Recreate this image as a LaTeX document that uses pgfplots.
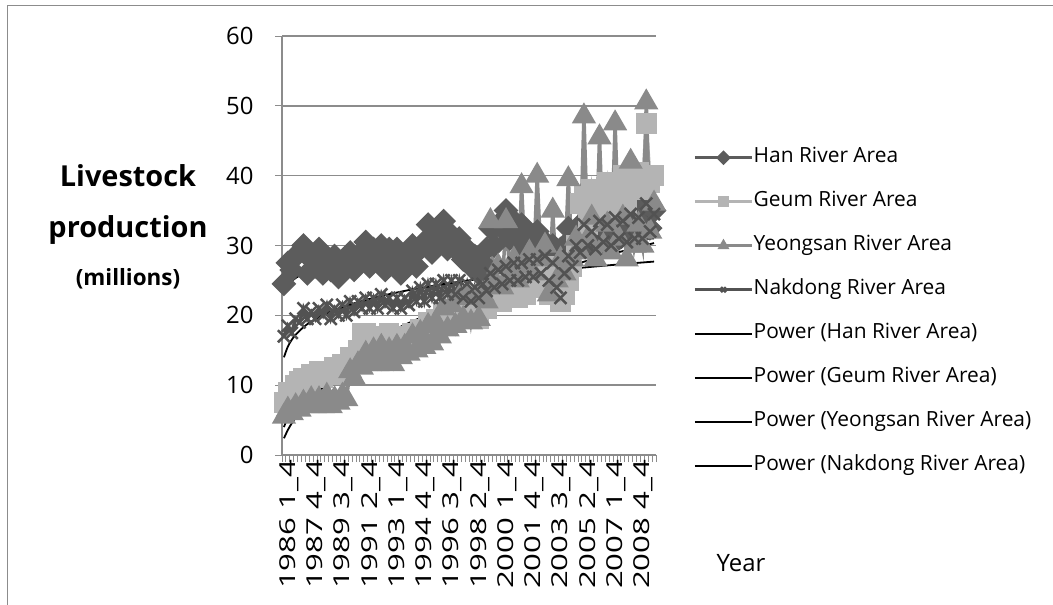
\documentclass[border=0pt]{standalone}
\usepackage{pgfplots}
\pgfplotsset{compat=1.18}
\usepackage{pgfplotstable}
\usepackage{fontspec}
\setmainfont{Open Sans}

\definecolor{gridgray}{HTML}{8C8C8C}
\definecolor{hancol}{HTML}{5C5C5C}
\definecolor{geumcol}{HTML}{B4B4B4}
\definecolor{yeongcol}{HTML}{8A8A8A}
\definecolor{nakcol}{HTML}{525252}

% quarterly livestock production, 1986 Q1 (idx 0) to 2009 Q4 (idx 95)
\pgfplotstableread{
idx han geum yeong nak
0 24.5 7.5 5.5 17.0
1 27.5 9.0 6.5 18.5
2 26.5 8.5 6.0 17.5
3 28.5 10.0 7.0 19.5
4 29.0 10.5 6.5 19.0
5 30.0 11.0 7.5 21.0
6 26.0 10.0 7.0 19.5
7 28.0 11.5 8.0 20.5
8 27.0 11.5 7.0 19.5
9 29.5 12.0 8.0 21.0
10 26.0 11.0 7.0 20.0
11 27.5 12.0 8.5 21.5
12 26.5 11.5 7.0 19.5
13 28.5 12.5 8.0 21.0
14 25.5 11.5 7.5 20.0
15 27.5 13.0 8.5 21.5
16 27.0 13.0 8.0 20.0
17 29.0 14.0 12.0 22.0
18 26.5 13.0 11.0 20.5
19 28.5 15.0 13.0 22.0
20 28.0 17.5 12.5 21.0
21 30.5 17.5 14.5 22.5
22 27.0 16.0 13.0 21.0
23 29.5 17.0 15.0 22.5
24 28.0 16.5 13.0 21.0
25 30.0 17.0 15.5 23.0
26 26.5 16.0 13.5 21.5
27 29.5 17.5 15.0 22.5
28 27.5 16.0 13.0 21.0
29 29.5 17.0 15.5 22.5
30 26.0 15.5 14.0 21.0
31 28.0 16.5 15.5 22.5
32 28.5 16.0 14.5 21.5
33 30.0 17.5 17.0 23.5
34 27.0 16.0 15.0 22.0
35 29.5 18.0 17.5 24.0
36 30.5 17.5 15.5 22.0
37 33.0 19.0 18.5 24.5
38 29.0 17.5 16.0 22.5
39 31.5 19.5 19.0 24.5
40 31.0 19.0 17.0 22.5
41 33.5 20.5 21.0 25.0
42 29.5 19.0 18.0 23.0
43 31.5 20.5 21.5 25.0
44 29.5 19.5 18.5 23.0
45 31.0 21.0 22.5 25.0
46 28.0 19.5 19.5 22.5
47 29.5 21.0 23.0 24.5
48 27.0 19.5 19.0 22.0
49 28.5 21.0 22.5 24.0
50 26.0 19.5 19.5 22.5
51 27.5 21.5 23.0 24.5
52 29.5 21.0 22.0 23.5
53 32.5 23.0 33.5 26.0
54 30.0 22.0 25.0 24.0
55 33.0 24.0 27.0 26.5
56 32.5 22.0 24.0 24.5
57 35.0 24.5 33.5 27.0
58 31.0 22.5 26.0 25.0
59 33.5 24.0 28.0 27.5
60 31.0 22.5 25.0 25.0
61 33.0 25.0 38.5 27.5
62 29.5 23.0 27.0 25.5
63 31.5 25.5 29.0 28.0
64 30.0 24.0 26.0 25.5
65 32.0 27.0 40.0 28.0
66 28.5 24.5 28.0 26.0
67 30.5 27.0 30.0 28.5
68 28.5 23.0 23.0 25.0
69 30.0 26.0 35.0 27.5
70 27.0 23.5 25.0 24.0
71 29.5 22.0 28.0 22.5
72 30.0 23.0 26.0 26.0
73 32.5 25.0 39.5 28.5
74 29.5 27.0 28.0 27.0
75 31.5 30.0 31.0 30.0
76 31.0 36.0 29.0 29.0
77 33.5 37.0 48.5 33.0
78 30.0 33.0 31.0 30.0
79 32.0 38.0 34.0 32.0
80 31.5 34.0 28.0 29.5
81 34.0 38.0 45.5 33.5
82 30.5 35.0 30.0 30.5
83 33.0 39.0 33.0 33.0
84 32.0 35.0 29.0 30.0
85 34.5 39.0 47.5 34.0
86 31.0 36.0 31.0 31.0
87 33.0 40.0 34.0 33.5
88 32.5 36.0 28.0 30.5
89 35.0 40.0 42.0 34.5
90 31.5 38.0 30.0 31.0
91 33.5 40.5 33.0 34.0
92 33.0 38.0 30.0 31.0
93 36.0 47.5 50.5 36.0
94 32.5 39.0 32.0 32.0
95 35.0 40.0 36.0 34.5
}\livestock

% power-law trend curves (y = a x^b), sampled along the quarter index
\pgfplotstableread{
idx han geum yeong nak
0 23.20 4.00 2.40 14.00
1 24.25 5.44 3.59 15.53
2 24.88 6.51 4.54 16.50
3 25.34 7.40 5.36 17.22
5 26.00 8.86 6.78 18.30
7 26.48 10.07 8.02 19.10
11 27.17 12.06 10.14 20.30
15 27.67 13.70 11.98 21.19
23 28.40 16.40 15.16 22.51
31 28.92 18.64 17.91 23.50
39 29.33 20.58 20.39 24.30
47 29.68 22.31 22.66 24.97
55 29.97 23.89 24.78 25.55
63 30.22 25.35 26.78 26.07
71 30.45 26.71 28.67 26.53
79 30.66 27.99 30.48 26.95
87 30.84 29.20 32.21 27.34
95 31.01 30.35 33.88 27.70
}\trend

\begin{document}
\begin{tikzpicture}
\useasboundingbox (0bp,0bp) rectangle (1053bp,-605bp);
% chart frame
\draw[gridgray, line width=1.6bp] (7.5bp,-605bp) -- (7.5bp,-5.5bp) -- (1053bp,-5.5bp);

\begin{axis}[
  at={(282bp,-455bp)}, anchor=south west,
  scale only axis, width=374bp, height=419bp,
  xmin=-0.5, xmax=95.5, ymin=0, ymax=60,
  axis lines*=left,
  axis line style={gridgray, line width=1.6bp},
  ytick={0,10,...,60},
  ymajorgrids,
  major grid style={gridgray, line width=1.6bp},
  major tick length=0pt,
  minor tick length=7bp,
  tick align=outside,
  minor ytick={0,10,...,60},
  minor xtick={-0.5,0.5,...,95.5},
  minor tick style={gridgray, line width=1bp},
  xtick={0,7,...,91},
  xticklabels={1986 1\_4,1987 4\_4,1989 3\_4,1991 2\_4,1993 1\_4,1994 4\_4,1996 3\_4,1998 2\_4,2000 1\_4,2001 4\_4,2003 3\_4,2005 2\_4,2007 1\_4,2008 4\_4},
  xticklabel style={font=\fontsize{22}{26}\selectfont, xshift=5bp, yshift=0bp, rotate=90, xscale=1.42, anchor=east},
  yticklabel style={font=\fontsize{24}{28}\selectfont, anchor=east, xshift=-25bp},
  /pgf/number format/assume math mode=true,
  clip=false,
  legend style={at={(1.099,0.7315)}, anchor=north west, draw=none, fill=none,
    font=\fontsize{21}{25}\selectfont, row sep=26bp, inner sep=0pt,
    nodes={inner sep=0pt, text height=14bp, text depth=4bp},
    /tikz/every even column/.append style={column sep=7bp}},
  legend cell align=left,
  legend image code/.code={\draw[mark repeat=2,mark phase=2,#1] plot coordinates {(0bp,0bp) (28.5bp,0bp) (57bp,0bp)};},
  legend image post style={mark size=3.5bp},
]
\addplot[hancol, line width=3.5bp, mark=square*, mark size=7bp, mark options={rotate=45, solid}] table[x=idx, y=han] {\livestock};
\addlegendentry{Han River Area}
\addplot[geumcol, line width=3.5bp, mark=square*, mark size=8.5bp, mark options={solid}] table[x=idx, y=geum] {\livestock};
\addlegendentry{Geum River Area}
\addplot[yeongcol, line width=3.5bp, mark=triangle*, mark size=10.5bp, mark options={solid}] table[x=idx, y=yeong] {\livestock};
\addlegendentry{Yeongsan River Area}
\addplot[nakcol, line width=3.5bp, mark=x, mark size=8.5bp, mark options={solid, line width=2.5bp}] table[x=idx, y=nak] {\livestock};
\addlegendentry{Nakdong River Area}
\addplot[black, line width=1.8bp, smooth, no marks] table[x=idx, y=han] {\trend};
\addlegendentry{Power (Han River Area)}
\addplot[black, line width=1.8bp, smooth, no marks] table[x=idx, y=geum] {\trend};
\addlegendentry{Power (Geum River Area)}
\addplot[black, line width=1.8bp, smooth, no marks] table[x=idx, y=yeong] {\trend};
\addlegendentry{Power (Yeongsan River Area)}
\addplot[black, line width=1.8bp, smooth, no marks] table[x=idx, y=nak] {\trend};
\addlegendentry{Power (Nakdong River Area)}
\end{axis}

% axis titles
\node[font=\bfseries\fontsize{29}{34}\selectfont] at (128bp,-176bp) {Livestock};
\node[font=\bfseries\fontsize{29}{34}\selectfont] at (128bp,-230bp) {production};
\node[font=\bfseries\fontsize{22.5}{27}\selectfont] at (128bp,-279bp) {(millions)};
\node[font=\fontsize{24}{28}\selectfont] at (741bp,-563bp) {Year};
\end{tikzpicture}
\end{document}
